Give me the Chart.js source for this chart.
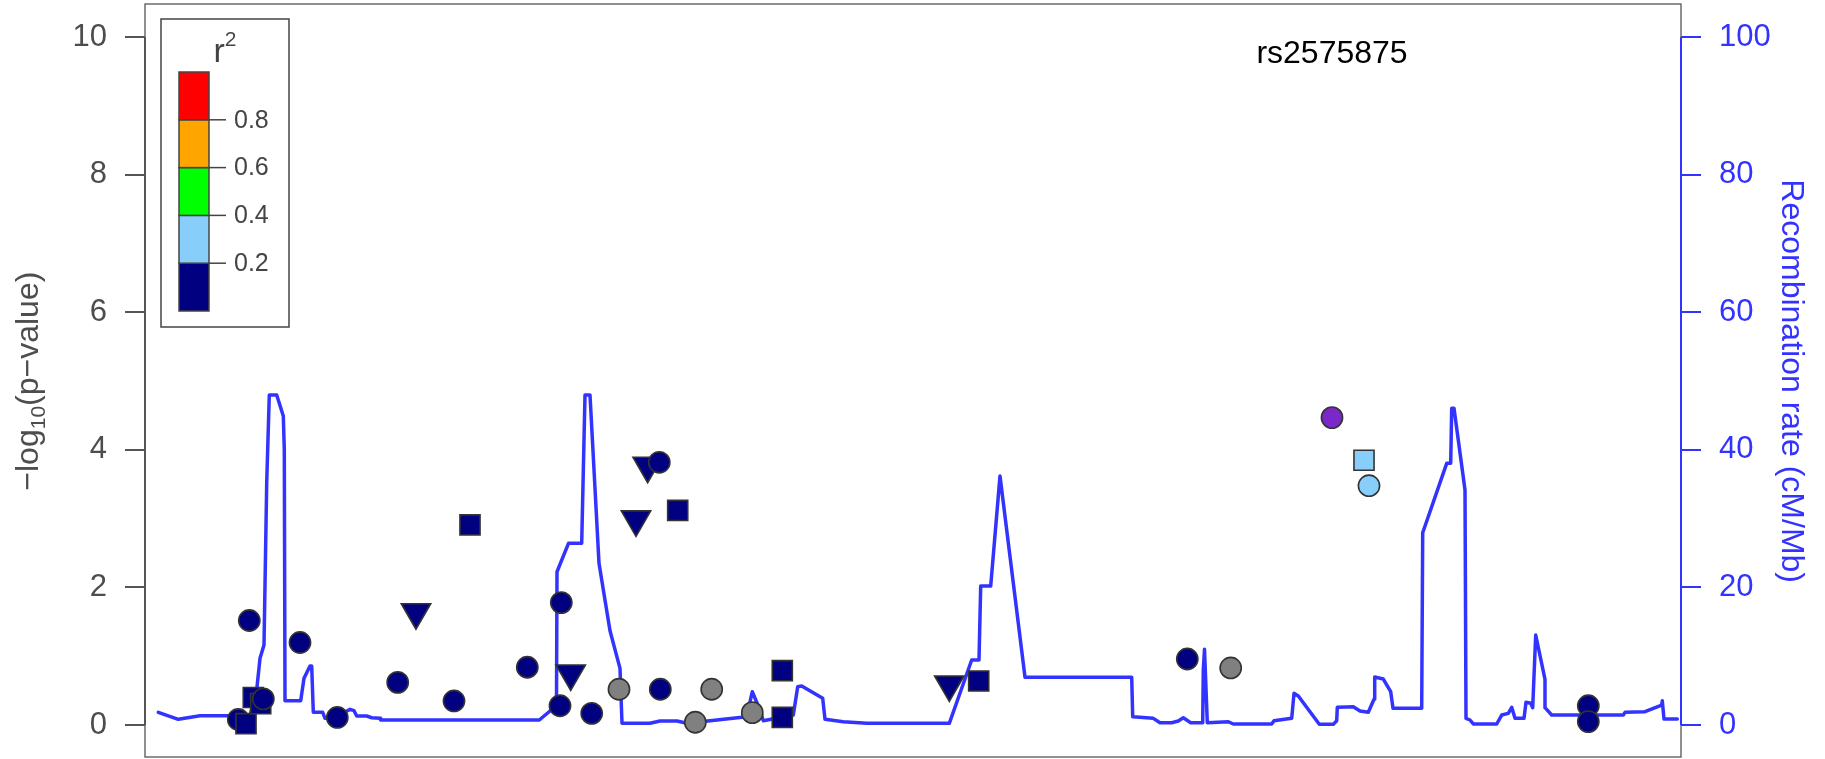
<!DOCTYPE html>
<html>
<head>
<meta charset="utf-8">
<script src="https://cdn.jsdelivr.net/npm/chart.js@4.4.1/dist/chart.umd.min.js"></script>
<style>
  html, body { margin: 0; padding: 0; background: #ffffff; }
  #c { display: block; }
</style>
</head>
<body>
<canvas id="c" width="1825" height="759"></canvas>
<script>
// ---------------- DATA ----------------
// SNP positions (relative position units across the region), -log10(p), marker shape, LD class
const snpPos = [93.3, 101, 104.3, 108.3, 115.7, 118.3, 155, 192.3, 252.7, 271, 309, 325, 382.3, 415, 416.3, 425.7, 446.7, 474, 491, 502.7, 514.3, 515.3, 532.7, 550.3, 566.7, 607.3, 637.3, 637.3, 804.3, 833.7, 1042.3, 1085.7, 1187, 1219, 1224, 1443.3, 1443.3];
const snpLogP = [0.08, 0.02, 1.52, 0.40, 0.31, 0.38, 1.20, 0.11, 0.62, 1.64, 0.35, 2.91, 0.84, 0.28, 1.78, 0.75, 0.17, 0.52, 2.99, 3.77, 3.82, 0.52, 3.12, 0.04, 0.52, 0.18, 0.79, 0.11, 0.59, 0.64, 0.96, 0.83, 4.47, 3.85, 3.48, 0.28, 0.05];
const snpShape = ['circle','square','circle','square','square','circle','circle','circle','circle','triangle','circle','square','circle','circle','circle','triangle','circle','circle','triangle','triangle','circle','circle','square','circle','circle','circle','square','square','triangle','square','circle','circle','circle','square','circle','circle','circle'];
const snpLD = ['lt02','lt02','lt02','lt02','lt02','lt02','lt02','lt02','lt02','lt02','lt02','lt02','lt02','lt02','lt02','lt02','lt02','na','lt02','lt02','lt02','lt02','lt02','na','na','na','lt02','lt02','lt02','lt02','lt02','na','index','lt04','lt04','lt02','lt02'];
const leadSnp = 'rs2575875';
const leadIndex = 32;

// Recombination rate (cM/Mb) trace
const recombPos = [13.3,33.3,55,105,111.7,115,119,121.7,124.3,131.7,138.3,139.3,140,155.7,159,165,166.7,168.3,177.7,180,190,200,205,209,211.7,221.7,226.7,235,235.7,394.3,405,410,411.5,412,423.5,436.7,440,445,454,465,475,477,505,515,532,542,601.7,607.3,615,618.3,648.3,652.7,656.7,677.7,680,698.3,721.7,804.3,826.7,834,835.7,845.7,855,880,986.7,987.7,1008.3,1015,1026.7,1033.3,1038.3,1045.7,1057.7,1058.3,1059.5,1062.3,1083.3,1088.3,1126.7,1129,1146.7,1149,1153.3,1174.3,1188.3,1191.7,1192.3,1201.7,1208.3,1215,1223.3,1229,1229.7,1238.3,1245.7,1248,1276.7,1277.7,1301.7,1305.7,1306.7,1309,1320,1321,1325,1328.3,1351.7,1356.7,1363.3,1366.7,1370,1379,1381,1385.7,1387.7,1390.7,1400,1400,1406.7,1478.3,1480,1500,1516.7,1517.3,1519,1532.3];
const recombRate = [1.85,0.83,1.35,1.35,5.09,9.70,11.63,35.15,47.99,47.99,44.93,39.99,3.53,3.53,6.79,8.58,8.58,1.85,1.85,0.97,0.97,1.89,2.28,2.08,1.31,1.31,1.06,0.97,0.73,0.73,2.04,2.91,3.64,22.29,26.42,26.42,47.99,47.99,23.51,13.70,8.24,0.25,0.25,0.58,0.58,0.25,1.21,4.84,2.18,0.63,1.45,5.57,5.67,3.88,0.83,0.48,0.25,0.25,9.45,9.45,20.21,20.21,36.21,6.94,6.94,1.21,0.97,0.33,0.33,0.58,1.06,0.33,0.33,8.00,11.01,0.33,0.48,0.15,0.15,0.63,0.97,4.61,4.22,0.10,0.10,0.63,2.57,2.62,2.66,2.04,1.85,3.74,6.98,6.69,4.84,2.43,2.43,27.96,38.05,38.05,46.05,46.05,34.17,0.97,0.73,0.15,0.15,1.45,1.70,2.57,0.97,0.97,3.30,3.16,2.52,13.09,6.65,2.52,1.45,1.45,1.85,1.93,2.91,3.53,0.87,0.87];

// Axis ticks
const leftTicks = [0, 2, 4, 6, 8, 10];
const rightTicks = [0, 20, 40, 60, 80, 100];

// r^2 legend
const legendBreaks = ['0.2', '0.4', '0.6', '0.8'];
const legendColors = ['#000080', '#87CEFA', '#00FF00', '#FFA500', '#FF0000']; // bottom -> top

// ---------------- STYLES ----------------
const FONT = "'Liberation Sans', Arial, Helvetica, sans-serif";
const ldColor = { lt02: '#000080', lt04: '#87CEFA', na: '#808080', index: '#7B28C8' };
const shapeStyle = { circle: 'circle', square: 'rect', triangle: 'triangle' };
const shapeRadius = { circle: 10.6, square: 14.2, triangle: 17 };
const recombBlue = '#3333FF';
const axisGray = '#4d4d4d';

const decor = {
  id: 'decor',
  afterDraw(chart) {
    const { ctx, chartArea: a, scales } = chart;
    const y = scales.y, y2 = scales.y2, x = scales.x;
    ctx.save();
    // plot box
    ctx.strokeStyle = '#555555';
    ctx.lineWidth = 1.3;
    ctx.strokeRect(a.left, a.top, a.right - a.left, a.bottom - a.top);
    // left axis line from first to last tick
    ctx.lineWidth = 2;
    ctx.strokeStyle = '#555555';
    ctx.beginPath();
    ctx.moveTo(a.left, y.getPixelForValue(leftTicks[0]));
    ctx.lineTo(a.left, y.getPixelForValue(leftTicks[leftTicks.length - 1]));
    ctx.stroke();
    // right axis line
    ctx.strokeStyle = recombBlue;
    ctx.beginPath();
    ctx.moveTo(a.right, y2.getPixelForValue(rightTicks[0]));
    ctx.lineTo(a.right, y2.getPixelForValue(rightTicks[rightTicks.length - 1]));
    ctx.stroke();

    // left axis title with subscript
    const midY = (y.getPixelForValue(leftTicks[0]) + y.getPixelForValue(leftTicks[leftTicks.length - 1])) / 2;
    const mainF = '32px ' + FONT, subF = '21px ' + FONT;
    const parts = [['\u2212log', mainF, 0], ['10', subF, 7], ['(p\u2212value)', mainF, 0]];
    let total = 0;
    parts.forEach(p => { ctx.font = p[1]; p.push(ctx.measureText(p[0]).width); total += p[3]; });
    ctx.save();
    ctx.translate(38, midY);
    ctx.rotate(-Math.PI / 2);
    ctx.fillStyle = axisGray;
    ctx.textBaseline = 'alphabetic';
    ctx.textAlign = 'left';
    let cx = -total / 2;
    parts.forEach(p => { ctx.font = p[1]; ctx.fillText(p[0], cx, p[2]); cx += p[3]; });
    ctx.restore();

    // right axis title
    ctx.save();
    ctx.translate(1782, midY);
    ctx.rotate(Math.PI / 2);
    ctx.font = '32px ' + FONT;
    ctx.fillStyle = recombBlue;
    ctx.textAlign = 'center';
    ctx.textBaseline = 'alphabetic';
    ctx.fillText('Recombination rate (cM/Mb)', 0, 0);
    ctx.restore();

    // lead SNP label
    ctx.font = '32px ' + FONT;
    ctx.fillStyle = '#000000';
    ctx.textAlign = 'center';
    ctx.textBaseline = 'alphabetic';
    ctx.fillText(leadSnp, x.getPixelForValue(snpPos[leadIndex]), y.getPixelForValue(9.62));

    // r^2 legend
    const L = { x0: 161, y0: 19, x1: 289, y1: 327, barX: 179, barW: 30, barTop: 72, segH: 47.8 };
    ctx.strokeStyle = '#444444';
    ctx.lineWidth = 1.5;
    ctx.strokeRect(L.x0, L.y0, L.x1 - L.x0, L.y1 - L.y0);
    const n = legendColors.length;
    for (let i = 0; i < n; i++) {
      const top = L.barTop + (n - 1 - i) * L.segH;
      ctx.fillStyle = legendColors[i];
      ctx.fillRect(L.barX, top, L.barW, L.segH);
      ctx.strokeRect(L.barX, top, L.barW, L.segH);
    }
    ctx.font = '25px ' + FONT;
    ctx.fillStyle = '#444444';
    ctx.textAlign = 'left';
    ctx.textBaseline = 'middle';
    legendBreaks.forEach((lab, i) => {
      const ty = L.barTop + (n - 1 - i) * L.segH;
      ctx.beginPath();
      ctx.moveTo(L.barX + L.barW, ty);
      ctx.lineTo(L.barX + L.barW + 17, ty);
      ctx.stroke();
      ctx.fillText(lab, L.barX + L.barW + 25, ty + 1);
    });
    // legend title r^2
    ctx.textBaseline = 'alphabetic';
    ctx.font = '34px ' + FONT;
    const rw = ctx.measureText('r').width;
    ctx.font = '21px ' + FONT;
    const sw = ctx.measureText('2').width;
    const tx = (L.x0 + L.x1) / 2 - (rw + sw) / 2;
    ctx.font = '34px ' + FONT;
    ctx.fillText('r', tx, 62);
    ctx.font = '21px ' + FONT;
    ctx.fillText('2', tx + rw, 46);
    ctx.restore();
  }
};

const fixWidth = w => scale => { scale.width = w; scale.paddingTop = 0; scale.paddingBottom = 0; };

new Chart(document.getElementById('c'), {
  type: 'scatter',
  data: {
    datasets: [
      {
        label: 'SNPs',
        data: snpPos.map((p, i) => ({ x: p, y: snpLogP[i] })),
        yAxisID: 'y',
        order: 1,
        pointStyle: c => shapeStyle[snpShape[c.dataIndex]],
        pointRotation: c => (snpShape[c.dataIndex] === 'triangle' ? 180 : 0),
        pointRadius: c => shapeRadius[snpShape[c.dataIndex]],
        pointBackgroundColor: c => ldColor[snpLD[c.dataIndex]],
        pointBorderColor: '#333333',
        pointBorderWidth: 1.6
      },
      {
        label: 'Recombination rate',
        type: 'line',
        data: recombPos.map((p, i) => ({ x: p, y: recombRate[i] })),
        yAxisID: 'y2',
        order: 2,
        borderColor: recombBlue,
        borderWidth: 3.5,
        borderJoinStyle: 'round',
        borderCapStyle: 'round',
        pointRadius: 0,
        tension: 0,
        fill: false
      }
    ]
  },
  options: {
    responsive: false,
    animation: false,
    events: [],
    layout: { autoPadding: false, padding: { top: 4, bottom: 2, left: 0, right: 0 } },
    plugins: { legend: { display: false }, tooltip: { enabled: false } },
    scales: {
      x: { type: 'linear', min: 0, max: 1536, display: false },
      y: {
        position: 'left',
        min: -0.465, max: 10.484,
        afterFit: fixWidth(145),
        border: { display: false },
        grid: { drawOnChartArea: false, drawTicks: true, tickLength: 20, color: '#555555', lineWidth: 2 },
        ticks: {
          stepSize: 2, includeBounds: false, autoSkip: false, padding: 18,
          color: axisGray, font: { family: FONT, size: 31, lineHeight: 0.1 }
        }
      },
      y2: {
        position: 'right',
        min: -4.65, max: 104.84,
        afterFit: fixWidth(144),
        border: { display: false },
        grid: { drawOnChartArea: false, drawTicks: true, tickLength: 20, color: recombBlue, lineWidth: 2 },
        ticks: {
          stepSize: 20, includeBounds: false, autoSkip: false, padding: 18,
          color: recombBlue, font: { family: FONT, size: 31, lineHeight: 0.1 }
        }
      }
    }
  },
  plugins: [decor]
});
</script>
</body>
</html>
